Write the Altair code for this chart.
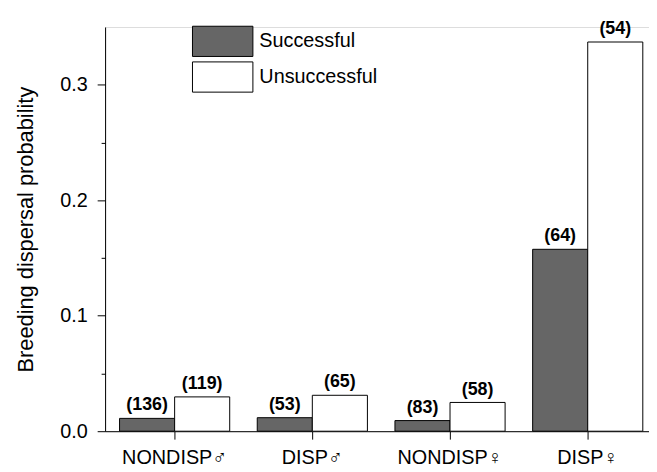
import altair as alt
import pandas as pd

categories = ["NONDISP♂", "DISP♂", "NONDISP♀", "DISP♀"]
series = ["Successful", "Unsuccessful"]
successful = [0.0111, 0.0117, 0.0092, 0.1575]
unsuccessful = [0.0297, 0.0311, 0.0249, 0.337]
n_successful = [136, 53, 83, 64]
n_unsuccessful = [119, 65, 58, 54]

rows = []
for i, c in enumerate(categories):
    rows.append({"group": c, "series": series[0], "value": successful[i], "n": f"({n_successful[i]})"})
    rows.append({"group": c, "series": series[1], "value": unsuccessful[i], "n": f"({n_unsuccessful[i]})"})
df = pd.DataFrame(rows)

FONT = "Liberation Sans"

x = alt.X(
    "group:N",
    sort=categories,
    scale=alt.Scale(paddingInner=0.2, paddingOuter=0.075, align=0.7, round=False),
    axis=alt.Axis(
        title=None, labelAngle=0, labelFontSize=20, labelFont=FONT, labelColor="black",
        tickSize=8, tickColor="black", domainColor="black", labelPadding=9,
    ),
)
xoff = alt.XOffset("series:N", sort=series, scale=alt.Scale(paddingInner=0, paddingOuter=0, round=False))
y = alt.Y(
    "value:Q",
    scale=alt.Scale(domain=[0, 0.35], nice=False),
    axis=alt.Axis(
        title="Breeding dispersal probability",
        titleFontSize=22, titleFont=FONT, titleFontWeight="normal", titleColor="black",
        titlePadding=22,
        values=[0, 0.05, 0.1, 0.15, 0.2, 0.25, 0.3],
        labelExpr="round(datum.value*100) % 10 == 0 ? format(datum.value, '.1f') : ''",
        tickSize={"condition": {"test": "round(datum.value*100) % 10 != 0", "value": 4}, "value": 8},
        labelFontSize=20, labelFont=FONT, labelColor="black", labelPadding=10,
        tickColor="black", domainColor="black", grid=False,
    ),
)

bars = alt.Chart(df).mark_bar(stroke="black", strokeWidth=1).encode(
    x=x,
    xOffset=xoff,
    y=y,
    fill=alt.Fill(
        "series:N",
        sort=series,
        scale=alt.Scale(domain=series, range=["#666666", "#ffffff"]),
        legend=alt.Legend(
            title=None, orient="none", legendX=102.7, legendY=-1.5,
            symbolType="M-2,-1H2V1H-2Z", symbolSize=930,
            symbolStrokeColor="black", symbolStrokeWidth=1, symbolOpacity=1,
            labelFontSize=20, labelFont=FONT, labelColor="black",
            labelOffset=21, rowPadding=0, padding=0,
        ),
    ),
)

labels = alt.Chart(df).mark_text(
    font=FONT, fontSize=18, fontWeight="bold", baseline="alphabetic", dy=-8, color="black"
).encode(
    x=alt.X("group:N", sort=categories),
    xOffset=alt.XOffset("series:N", sort=series),
    y="value:Q",
    text="n:N",
)

chart = alt.layer(bars, labels).properties(
    width=549, height=408,
    autosize=alt.AutoSizeParams(type="none"),
    padding={"left": 98, "top": 17, "right": 0, "bottom": 38},
).configure_view(strokeWidth=0).configure(background="white")

chart.save("out.html", embed_options={"renderer": "svg", "actions": False})
